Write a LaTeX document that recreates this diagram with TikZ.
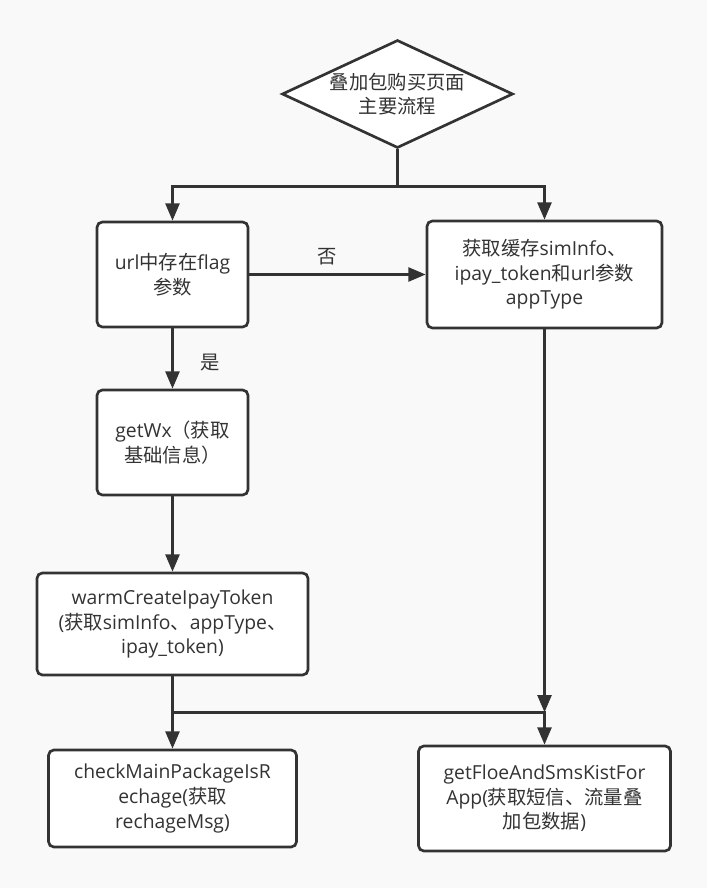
\documentclass[tikz,border=0pt]{standalone}
\usepackage{fontspec}
\setmainfont{Open Sans}
\newfontfamily\cjk{Noto Sans CJK SC}
\definecolor{linegray}{HTML}{333333}
\definecolor{bggray}{HTML}{F9F9F9}
\usetikzlibrary{arrows.meta,shapes.geometric,calc,positioning}

\begin{document}
\begin{tikzpicture}[x=0.75pt,y=-0.75pt,>={Triangle[length=13pt,width=10.5pt]},
    line width=2pt,draw=linegray,color=linegray]
    \tikzstyle{stepbox}=[rectangle,rounded corners=4pt,draw=linegray,fill=white,
    font=\fontsize{14.5pt}{18.5pt}\selectfont,inner sep=0pt,align=center]
    \tikzstyle{decision}=[diamond,aspect=2.14,draw=linegray,fill=white,
    font=\fontsize{14.5pt}{18.5pt}\selectfont,inner sep=0pt,align=center,
    minimum width=173.25pt,minimum height=81pt]
    \tikzstyle{txt}=[font=\fontsize{14.5pt}{18.5pt}\selectfont\cjk,inner sep=0pt]

    % background and page size
    \fill[bggray] (0,0) rectangle (707,888);

    \node[decision](title) at (397.5,94){\cjk 叠加包购买页面\\\cjk 主要流程};

    \node[stepbox,minimum width=113.25pt,minimum height=78.75pt](url_check)
    at (172.5,274.5){url{\cjk 中存在}flag\\{\cjk 参数}};
    \node[stepbox,minimum width=176.25pt,minimum height=80.25pt](cache_read)
    [right=132.25pt of url_check]{{\cjk 获取缓存}simInfo{\cjk 、}\\ipay\_token{\cjk 和}url{\cjk 参数}\\appType};
    \node[stepbox,minimum width=113.25pt,minimum height=78.75pt](get_wx)
    [below=45.25pt of url_check]{getWx{\cjk （获取}\\{\cjk 基础信息）}};
    \node[stepbox,minimum width=203.25pt,minimum height=76.5pt](warm_token)
    [below=56.5pt of get_wx]{warmCreateIpayToken\\({\cjk 获取}simInfo{\cjk 、}appType{\cjk 、}\\ipay\_token)};
    \node[stepbox,minimum width=186pt,minimum height=72.75pt](check_pkg)
    [below=54.25pt of warm_token]{checkMainPackageIsR\\echage({\cjk 获取}\\rechageMsg)};
    \node[stepbox,minimum width=189pt,minimum height=78.75pt](get_floe)
    at (cache_read |- check_pkg){getFloeAndSmsKistFor\\App({\cjk 获取短信、流量叠}\\{\cjk 加包数据})};

    \coordinate (split) at ($(title.south)+(0,37)$);
    \coordinate (merge) at ($(warm_token.south)+(0,36)$);

    \draw (title.south) -- (split);
    \draw[->] (split) -| (url_check.north);
    \draw[->] (split) -| (cache_read.north);

    \draw[->] (url_check) -- node[txt,pos=0.44,above=6pt]{否} (cache_read);
    \draw[->] (url_check) -- node[txt,pos=0.57,right=20pt]{是} (get_wx);
    \draw[->] (get_wx) -- (warm_token);

    \draw (warm_token) -- (merge);
    \draw[->] (merge) -- (check_pkg);
    \draw[->] (merge) -| (get_floe.north);
    \draw[->] (cache_read) -- (cache_read |- merge);
  \end{tikzpicture}
\end{document}
